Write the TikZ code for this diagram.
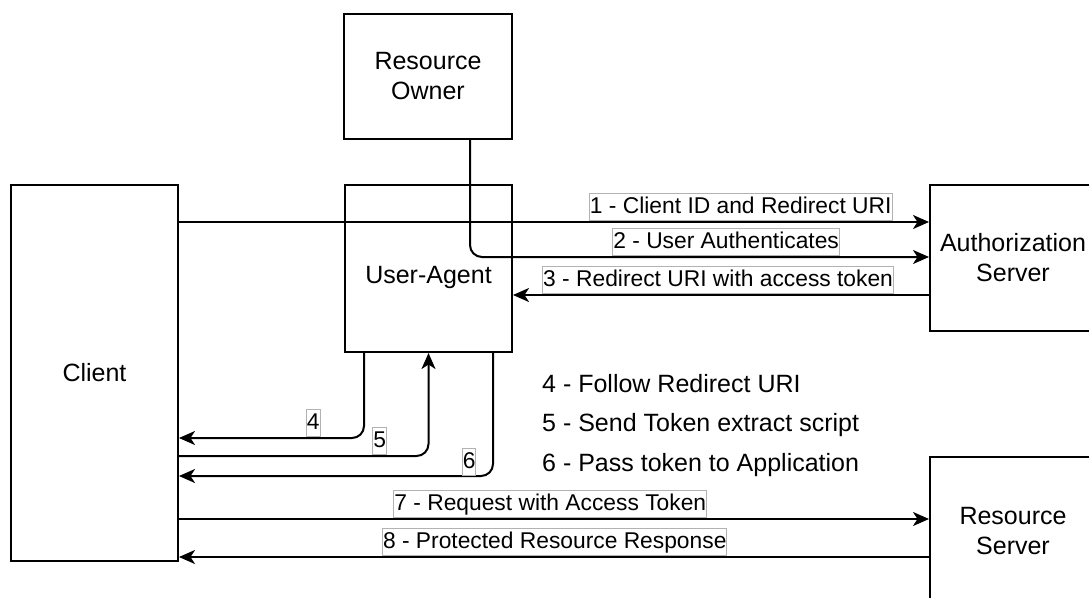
\documentclass[tikz,border=0pt]{standalone}
\usepackage{fontspec}
\setmainfont{Liberation Sans}
\usetikzlibrary{arrows.meta}

\tikzset{
  box/.style={shape=rectangle,draw=black,line width=2pt,inner sep=0pt,font=\fontsize{25}{30}\selectfont,align=center},
  flow/.style={line width=2pt,rounded corners=12pt},
  lbl/.style={sharp corners,draw=black!30,line width=1pt,fill=white,inner xsep=0.5pt,inner ysep=3pt,text height=17pt,text depth=4pt,font=\fontsize{22.8}{26}\selectfont},
  note/.style={anchor=base west,inner sep=0pt,font=\fontsize{25}{30}\selectfont},
  >={Stealth[length=16pt,width=14pt,inset=4.5pt]}
}

\begin{document}
\begin{tikzpicture}[x=1pt,y=-1pt]

	\useasboundingbox (0,0) rectangle (1089,597);

	\node[box,minimum width=168pt,minimum height=125pt] (owner)   at (428, 76.5)  {Resource\\Owner};
	\node[box,minimum width=167pt,minimum height=167pt,label={[yshift=-9pt,font=\fontsize{25}{30}\selectfont]center:User-Agent}] (agent) at (428.5, 268.5) {};
	\node[box,minimum width=167pt,minimum height=376pt] (client)  at (94.5, 373)   {Client};
	\node[box,minimum width=166pt,minimum height=146pt] (auth)    at (1013, 258)   {Authorization\\Server};
	\node[box,minimum width=166pt,minimum height=148pt] (rserver) at (1013, 531)   {Resource\\Server};

	\draw[flow,->] (client.east |- 0,222) -- node[lbl,pos=0.749,above=1pt] {1 - Client ID and Redirect URI} (auth.west |- 0,222);
	\draw[flow,->] (owner.south -| 470,0) |- node[lbl,pos=0.779,above=1pt] {2 - User Authenticates} (auth.west |- 0,257);
	\draw[flow,->] (auth.west |- 0,295) -- node[lbl,pos=0.507,above=1pt] {3 - Redirect URI with access token} (agent.east |- 0,295);
	\draw[flow,->] (agent.south -| 364,0) |- node[lbl,pos=0.637,above=1pt] {4} (client.east |- 0,438);
	\draw[flow,->] (client.east |- 0,456) -| node[lbl,pos=0.402,above=1pt] {5} (agent.south);
	\draw[flow,->] (agent.south -| 493,0) |- node[lbl,pos=0.538,above=0pt] {6} (client.east |- 0,476);
	\draw[flow,->] (client.east |- 0,519) -- node[lbl,pos=0.495,above=1pt] {7 - Request with Access Token} (rserver.west |- 0,519);
	\draw[flow,->] (rserver.west |- 0,557) -- node[lbl,pos=0.499,above=1pt] {8 - Protected Resource Response} (client.east |- 0,557);

	\node[note] (step4) at (542, 392) {4 - Follow Redirect URI};
	\node[note] (step5) at (542, 431) {5 - Send Token extract script};
	\node[note] (step6) at (542, 471) {6 - Pass token to Application};

\end{tikzpicture}
\end{document}
